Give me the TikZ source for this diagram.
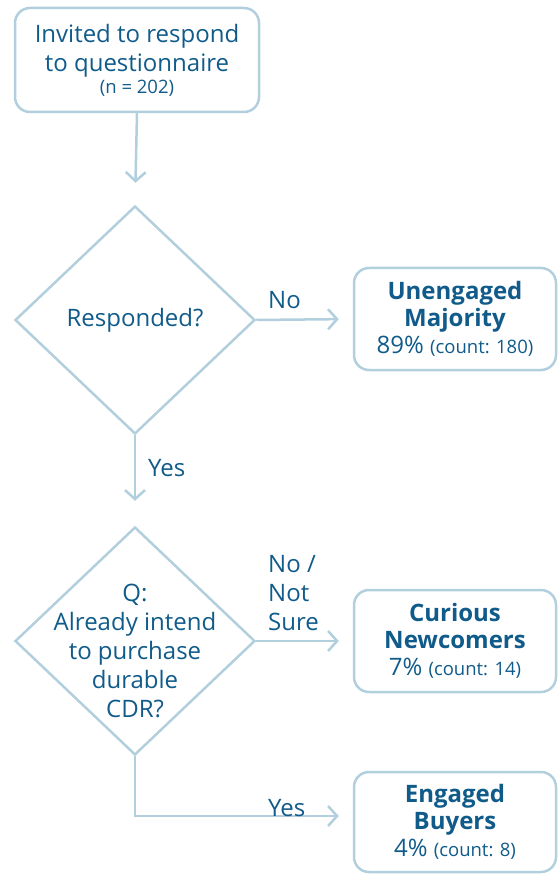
\documentclass[tikz,border=0pt]{standalone}
\usepackage{fontspec}
\setmainfont{Open Sans}
\usetikzlibrary{shapes.geometric,arrows.meta}
\definecolor{flowline}{RGB}{178,207,222}
\definecolor{flowtext}{RGB}{16,91,138}
\newcommand{\cnt}[1]{{\fontsize{18.5}{20}\selectfont #1}}

\begin{document}
\begin{tikzpicture}[x=1pt,y=-1pt,
	every node/.style={text=flowtext,font=\fontsize{24}{29}\selectfont},
	box/.style={draw=flowline,line width=2.5pt,rounded corners=15pt,align=center,inner sep=0pt,minimum width=202pt,minimum height=102pt},
	decision/.style={draw=flowline,line width=2.5pt,diamond,inner sep=0pt,minimum width=240pt,minimum height=228pt},
	arr/.style={draw=flowline,line width=2.5pt,-{Straight Barb[length=9pt,width=20pt]}},
	lbl/.style={anchor=west,align=left,inner sep=0pt}]
	\useasboundingbox (0,0) rectangle (557,874);

	\node[box,minimum width=244pt,minimum height=104pt] (invite) at (137,60) {Invited to respond\\to questionnaire\\[-7pt]\cnt{(n = 202)}};

	\node[decision] (resp) at (135,320) {};
	\node (resptext) at (resp) {Responded?};
	\node[decision] (intend) at (135,641) {};
	\node[align=center,inner sep=0pt] (intendtext) at (135,651) {Q:\\Already intend\\to purchase\\durable\\CDR?};

	\node[box] (unengaged) at (455,319) {\textbf{Unengaged}\\[-2pt]\textbf{Majority}\\[-2pt]89\% \cnt{(count: 180)}};
	\node[box] (curious) at (455,641) {\textbf{Curious}\\[-2pt]\textbf{Newcomers}\\[-2pt]7\% \cnt{(count: 14)}};
	\node[box,minimum height=100pt] (engaged) at (455,822) {\textbf{Engaged}\\[-2pt]\textbf{Buyers}\\[-2pt]4\% \cnt{(count: 8)}};

	% connectors
	\draw[arr,shorten >=22pt] (invite.south) -- (resp.north);
	\draw[arr,shorten >=14pt] (resp.east) -- (unengaged.west);
	\draw[arr,shorten >=25pt] (resp.south) -- (intend.north);
	\draw[arr,shorten >=14pt] (intend.east) -- (curious.west);
	\draw[arr,shorten >=14pt] (intend.south) |- ([yshift=6pt]engaged.west);

	\node[lbl] (no1) at (268,300) {No};
	\node[lbl] (yes1) at (148,468) {Yes};
	\node[lbl] (no2) at (268,593) {No /\\Not\\Sure};
	\node[lbl] (yes2) at (268,808) {Yes};
\end{tikzpicture}
\end{document}
